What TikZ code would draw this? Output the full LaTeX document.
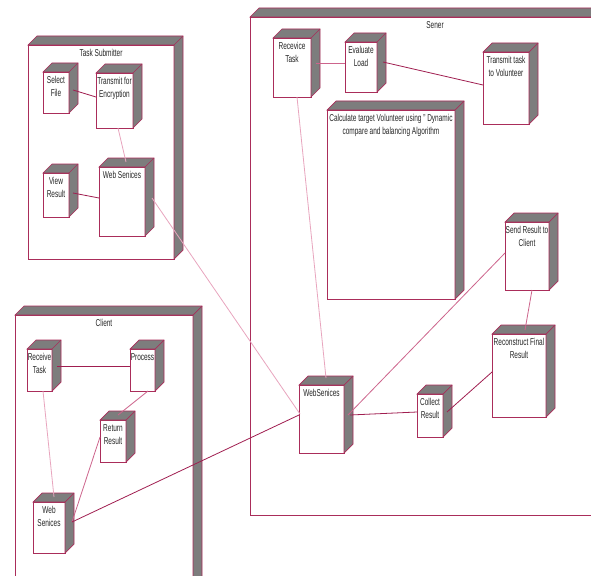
\documentclass[tikz,border=0pt]{standalone}
\usepackage{fontspec}
\setmainfont{Liberation Sans}[FakeStretch=0.65]
\usetikzlibrary{calc}

\definecolor{edge}{RGB}{170,45,90}
\definecolor{linkdark}{RGB}{160,30,80}
\definecolor{linkmid}{RGB}{205,100,140}
\definecolor{linklight}{RGB}{232,165,190}
\definecolor{sidegrey}{RGB}{125,125,125}

\tikzset{
  box/.style={draw=edge, fill=white, line width=0.7pt, inner sep=0pt, outer sep=0pt, anchor=north west},
  side/.style={draw=edge, fill=sidegrey, line width=0.7pt, line join=miter},
  boxline/.style={draw=edge, line width=0.7pt},
  lbl/.style={font=\fontsize{10}{13}\selectfont, align=center, anchor=north, inner sep=0pt, text=black!85},
  dark/.style={draw=linkdark, line width=0.8pt},
  mid/.style={draw=linkmid, line width=0.8pt},
  light/.style={draw=linklight, line width=0.8pt},
}

% a deployment node: name, left, top, right, bottom, caption
\newcommand{\depnode}[6]{%
  \node[box, minimum width={#4pt-#2pt}, minimum height={#5pt-#3pt}] (#1) at (#2,#3) {};
  \draw[side] (#1.north west) -- ++(9,-9) -| ([shift={(9,-9)}]#1.south east)
     -- (#1.south east) -- (#1.north east) -- cycle;
  \draw[boxline] (#1.north east) -- ++(9,-9);
  \node[lbl] (#1-t) at ([shift={(0,4.5)}]#1.north) {#6};
}

\begin{document}
\begin{tikzpicture}[x=1pt, y=-1pt]
\useasboundingbox (0,0) rectangle (591,575);
\clip (0,0) rectangle (591,575);

% packages
\depnode{ts}{28}{45}{174}{259}{Task Submitter}
\depnode{sv}{250}{17}{620}{515}{Sener}
\depnode{cl}{15}{315}{193}{600}{Client}

% Task Submitter
\depnode{sf}{43}{72}{69}{113}{Select\\File}
\depnode{tfe}{96}{73}{133}{128}{Transmit for\\Encryption}
\depnode{vr}{43}{173}{69}{217}{View\\Result}
\depnode{tws}{99}{167}{145}{236}{Web Senices}

% Server
\depnode{rt}{273}{38}{311}{97}{Recevice\\Task}
\depnode{el}{345}{42}{377}{92}{Evaluate\\Load}
\depnode{ttv}{483}{52}{529}{124}{Transmit task\\to Volunteer}
\depnode{calc}{327}{110}{455}{299}{Calculate target Volunteer using " Dynamic\\compare and balancing Algorithm}
\depnode{src}{505}{222}{549}{290}{Send Result to\\Client}
\depnode{rfr}{492}{334}{546}{417}{Reconstruct Final\\Result}
\depnode{cr}{417}{394}{443}{437}{Collect\\Result}
\depnode{sws}{299}{385}{344}{453}{WebSenices}

% Client
\depnode{crt}{27}{349}{52}{391}{Receive\\Task}
\depnode{pr}{130}{349}{155}{391}{Process}
\depnode{rr}{100}{420}{126}{462}{Return\\Result}
\depnode{cws}{33}{502}{65}{553}{Web\\Senices}

% connectors
\draw[dark]  ([shift={(4,-2.5)}]sf.east) -- ([shift={(0,-3.5)}]tfe.west);
\draw[light] ([shift={(3.5,0)}]tfe.south) -- ([shift={(4,-5)}]tws.north);
\draw[dark]  ([shift={(4,-2)}]vr.east) -- ([shift={(0,-3.5)}]tws.west);
\draw[light] ([shift={(7,-3.5)}]tws.east) -- ([shift={(1,-5)}]sws.west);

\draw[mid]   ([shift={(5,-4.5)}]rt.east) -- ([shift={(0,-4)}]el.west);
\draw[dark]  ([shift={(6,-5)}]el.east) -- ([shift={(0,-3)}]ttv.west);
\draw[light] ([shift={(5,0)}]rt.south) -- ([shift={(4.5,-7)}]sws.north);
\draw[mid]   ([shift={(5,0)}]src.south) -- ([shift={(6,-4)}]rfr.north);
\draw[mid]   ([shift={(0,-3)}]src.west) -- ([shift={(4,-4)}]sws.east);
\draw[dark]  ([shift={(0,-3.5)}]cr.west) -- ([shift={(6,-4)}]sws.east);
\draw[dark]  ([shift={(0,-3.5)}]rfr.west) -- ([shift={(4,-3.5)}]cr.east);

\draw[dark]  ([shift={(5,-4)}]crt.east) -- ([shift={(0,-4)}]pr.west);
\draw[mid]   ([shift={(5.5,0)}]pr.south) -- ([shift={(5,-5)}]rr.north);
\draw[light] ([shift={(3.5,0)}]crt.south) -- ([shift={(5,-5)}]cws.north);
\draw[mid]   ([shift={(0,-4)}]rr.west) -- ([shift={(7,-5.5)}]cws.east);
\draw[dark]  ([shift={(7,-5.5)}]cws.east) -- ([shift={(0,-4)}]sws.west);
\end{tikzpicture}
\end{document}
